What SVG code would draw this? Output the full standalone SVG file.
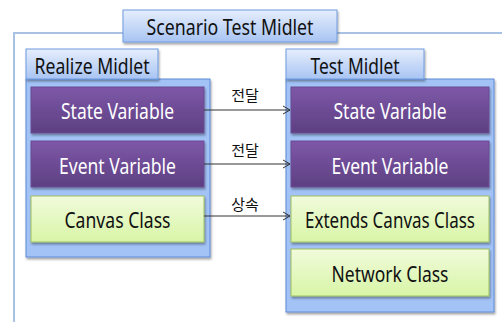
<svg xmlns="http://www.w3.org/2000/svg" width="502" height="322" viewBox="0 0 502 322">
<defs>
<linearGradient id="tabG" x1="0" y1="0" x2="0" y2="1"><stop offset="0" stop-color="#e6eefc"/><stop offset="1" stop-color="#a8c4f3"/></linearGradient>
<linearGradient id="purG" x1="0" y1="0" x2="0" y2="1"><stop offset="0" stop-color="#7e58a8"/><stop offset="1" stop-color="#5d3f82"/></linearGradient>
<linearGradient id="grnG" x1="0" y1="0" x2="0" y2="1"><stop offset="0" stop-color="#f1fbdc"/><stop offset="1" stop-color="#d8f5a6"/></linearGradient>
<filter id="sh" x="-10%" y="-10%" width="130%" height="140%"><feDropShadow dx="1" dy="2" stdDeviation="1.2" flood-color="#000" flood-opacity="0.35"/></filter>
<marker id="arr" markerWidth="10" markerHeight="10" refX="8" refY="5" orient="auto" markerUnits="userSpaceOnUse"><path d="M1,1 L8,5 L1,9" fill="none" stroke="#333" stroke-width="1"/></marker>
<style>
.tab{fill:url(#tabG);stroke:#6f9be0;stroke-width:1;filter:url(#sh)}
.panel{fill:#a3c3f7;stroke:#5c8ad4;stroke-width:1;filter:url(#sh)}
.pur{fill:url(#purG);stroke:#6b4a93;stroke-width:1;filter:url(#sh)}
.grn{fill:url(#grnG);stroke:#9fc060;stroke-width:1;filter:url(#sh)}
.t{font-family:"Noto Sans","Liberation Sans",sans-serif;font-size:21px;text-anchor:middle}
.w{fill:#ffffff}
.k{fill:#111111}
.lbl{font-family:"Noto Sans CJK KR","Noto Sans",sans-serif;font-size:15px;text-anchor:middle;fill:#111}
.con{stroke:#333;stroke-width:1;fill:none;marker-end:url(#arr)}
</style>
</defs>
<rect x="0" y="0" width="502" height="322" fill="#ffffff"/>
<g id="scenario">
<rect x="14" y="33" width="500" height="300" fill="#ffffff" stroke="#a9c1e3" stroke-width="2"/>
<rect class="tab" x="123" y="10" width="214" height="32"/>
<text class="t k" x="230" y="35" textLength="167" lengthAdjust="spacingAndGlyphs">Scenario Test Midlet</text>
</g>
<g id="realize">
<rect class="panel" x="26" y="79" width="184" height="178"/>
<rect class="tab" x="26" y="49" width="132" height="30"/>
<text class="t k" x="92" y="74" textLength="115" lengthAdjust="spacingAndGlyphs">Realize Midlet</text>
</g>
<g id="test">
<rect class="panel" x="286" y="79" width="208" height="233"/>
<rect class="tab" x="286" y="49" width="138" height="30"/>
<text class="t k" x="355" y="74" textLength="89" lengthAdjust="spacingAndGlyphs">Test Midlet</text>
</g>
<g id="r-state"><rect class="pur" x="31" y="87" width="173" height="46"/><text class="t w" x="117.5" y="119" textLength="113" lengthAdjust="spacingAndGlyphs">State Variable</text></g>
<g id="r-event"><rect class="pur" x="31" y="141" width="173" height="46"/><text class="t w" x="117.5" y="174" textLength="117" lengthAdjust="spacingAndGlyphs">Event Variable</text></g>
<g id="r-canvas"><rect class="grn" x="31" y="196" width="173" height="46"/><text class="t k" x="117.5" y="228" textLength="106" lengthAdjust="spacingAndGlyphs">Canvas Class</text></g>
<g id="t-state"><rect class="pur" x="291" y="87" width="198" height="46"/><text class="t w" x="390" y="119" textLength="113" lengthAdjust="spacingAndGlyphs">State Variable</text></g>
<g id="t-event"><rect class="pur" x="291" y="141" width="198" height="46"/><text class="t w" x="390" y="174" textLength="117" lengthAdjust="spacingAndGlyphs">Event Variable</text></g>
<g id="t-extends"><rect class="grn" x="291" y="196" width="198" height="46"/><text class="t k" x="390" y="228" font-size="17" textLength="170" lengthAdjust="spacingAndGlyphs">Extends Canvas Class</text></g>
<g id="t-network"><rect class="grn" x="291" y="249" width="198" height="47"/><text class="t k" x="390" y="282" textLength="117" lengthAdjust="spacingAndGlyphs">Network Class</text></g>
<g id="connectors">
<line class="con" x1="204" y1="110" x2="290" y2="110"/>
<line class="con" x1="204" y1="164" x2="290" y2="164"/>
<line class="con" x1="204" y1="216" x2="290" y2="216"/>
<text class="lbl" x="245" y="101">전달</text>
<text class="lbl" x="245" y="156">전달</text>
<text class="lbl" x="245" y="210">상속</text>
</g>
</svg>
